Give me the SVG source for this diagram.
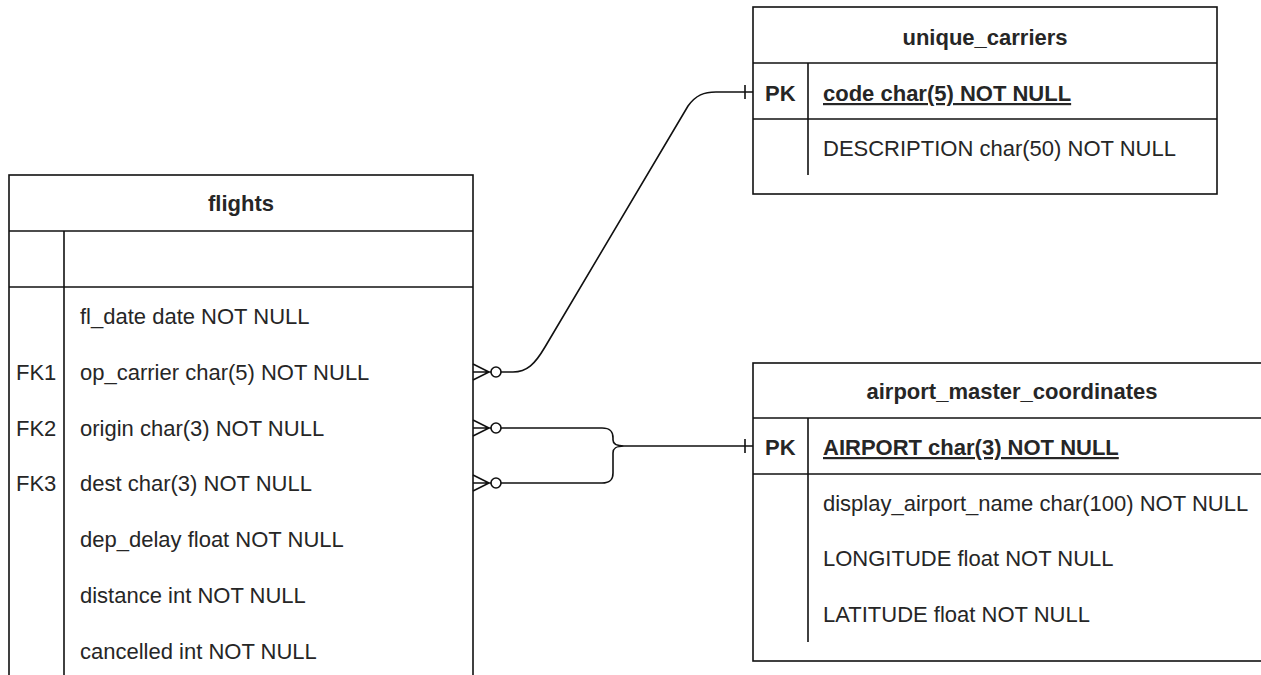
<svg xmlns="http://www.w3.org/2000/svg" width="1261" height="675" viewBox="0 0 1261 675">
<style>
.box{fill:#fff;stroke:#111;stroke-width:1.6}
.ln{fill:none;stroke:#111;stroke-width:1.6}
.t{font-family:"Liberation Sans",Arial,sans-serif;font-size:22px;fill:#262626}
.h{font-weight:bold;text-anchor:middle}
.pk{font-weight:bold;text-decoration:underline}
.k{font-weight:bold}
</style>
<rect width="1261" height="675" fill="#fff"/>
<g id="flights">
<rect class="box" x="9" y="175" width="464" height="520"/>
<line class="ln" x1="9" y1="231" x2="473" y2="231"/>
<line class="ln" x1="9" y1="287" x2="473" y2="287"/>
<line class="ln" x1="64" y1="231" x2="64" y2="695"/>
<text class="t h" x="241" y="211">flights</text>
<text class="t" x="80" y="324">fl_date date NOT NULL</text>
<text class="t" x="16" y="380">FK1</text>
<text class="t" x="80" y="380">op_carrier char(5) NOT NULL</text>
<text class="t" x="16" y="436">FK2</text>
<text class="t" x="80" y="436">origin char(3) NOT NULL</text>
<text class="t" x="16" y="491">FK3</text>
<text class="t" x="80" y="491">dest char(3) NOT NULL</text>
<text class="t" x="80" y="547">dep_delay float NOT NULL</text>
<text class="t" x="80" y="603">distance int NOT NULL</text>
<text class="t" x="80" y="659">cancelled int NOT NULL</text>
</g>
<g id="unique_carriers">
<rect class="box" x="753" y="7" width="464" height="187"/>
<line class="ln" x1="753" y1="63" x2="1217" y2="63"/>
<line class="ln" x1="753" y1="119" x2="1217" y2="119"/>
<line class="ln" x1="808" y1="63" x2="808" y2="175"/>
<text class="t h" x="985" y="45">unique_carriers</text>
<text class="t k" x="765" y="101">PK</text>
<text class="t pk" x="823" y="101">code char(5) NOT NULL</text>
<text class="t" x="823" y="156">DESCRIPTION char(50) NOT NULL</text>
</g>
<g id="airport_master_coordinates">
<rect class="box" x="753" y="363" width="518" height="298"/>
<line class="ln" x1="753" y1="418" x2="1271" y2="418"/>
<line class="ln" x1="753" y1="474" x2="1271" y2="474"/>
<line class="ln" x1="808" y1="418" x2="808" y2="642"/>
<text class="t h" x="1012" y="399">airport_master_coordinates</text>
<text class="t k" x="765" y="455">PK</text>
<text class="t pk" x="823" y="455">AIRPORT char(3) NOT NULL</text>
<text class="t" x="823" y="511">display_airport_name char(100) NOT NULL</text>
<text class="t" x="823" y="566">LONGITUDE float NOT NULL</text>
<text class="t" x="823" y="622">LATITUDE float NOT NULL</text>
</g>
<g id="connectors">
<path class="ln" d="M473 372L491 372M473 364L489 372L473 380"/>
<circle class="ln" cx="496" cy="372" r="5"/>
<path class="ln" d="M501 372L513 372C527 372 535 364 545 347L688 106C696 95 704 92 716 92L753 92M745 85L745 99"/>
<path class="ln" d="M473 428L491 428M473 420L489 428L473 436"/>
<circle class="ln" cx="496" cy="428" r="5"/>
<path class="ln" d="M473 483L491 483M473 475L489 483L473 491"/>
<circle class="ln" cx="496" cy="483" r="5"/>
<path class="ln" d="M501 428L602 428C611 428 613 432 613 438L613 440C613 444 616 446 624 446M501 483L602 483C611 483 613 479 613 473L613 453C613 448 616 446 624 446L753 446M745 439L745 453"/>
</g>
</svg>
